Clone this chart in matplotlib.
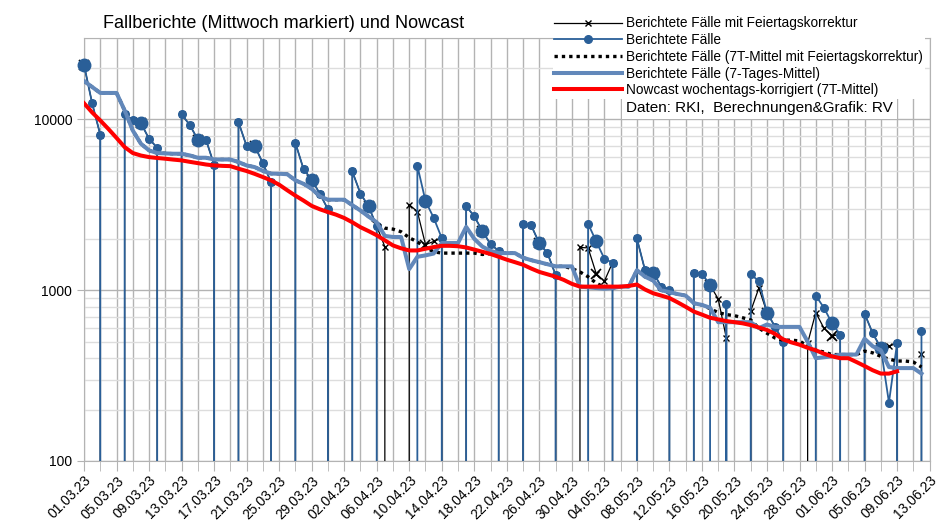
import pandas as pd
import matplotlib
matplotlib.use('Agg')
import matplotlib.pyplot as plt
import matplotlib.dates as mdates
from matplotlib.ticker import FuncFormatter, NullFormatter, LogLocator

plt.rcParams['font.family'] = ['Liberation Sans', 'DejaVu Sans']

# Daten, 01.03.23 - 12.06.23
tage = pd.date_range('2023-03-01', '2023-06-12')

faelle = [20900, 12450, 8140, 0, 0, 10700, 9870, 9520, 7710, 6830,
          0, 0, 10700, 9310, 7620, 7620, 5430, 0, 0, 9650,
          6980, 6980, 5550, 4300, 0, 0, 7290, 5120, 4440, 3680,
          2980, 0, 0, 4960, 3680, 3100, 2370, 0, 0, 0,
          0, 5360, 3330, 2660, 2020, 0, 0, 3110, 2710, 2220,
          1860, 1700, 0, 0, 2440, 2400, 1880, 1650, 1230, 0,
          0, 0, 2450, 1930, 1530, 1450, 0, 0, 2010, 1310,
          1270, 1050, 1000, 0, 0, 1270, 1250, 1070, 0, 830,
          0, 0, 1240, 1130, 740, 610, 500, 0, 0, 0,
          930, 790, 640, 550, 0, 0, 730, 560, 460, 220,
          490, 0, 0, 575]

faelle_korr = [20900, 12450, 8140, 0, 0, 10700, 9870, 9520, 7710, 6830,
               0, 0, 10700, 9310, 7620, 7620, 5430, 0, 0, 9650,
               6980, 6980, 5550, 4300, 0, 0, 7290, 5120, 4440, 3680,
               2980, 0, 0, 4960, 3680, 3100, 2370, 1800, 0, 0,
               3170, 2890, 1850, 1930, 2020, 0, 0, 3110, 2710, 2220,
               1860, 1700, 0, 0, 2440, 2400, 1880, 1650, 1230, 0,
               0, 1780, 1770, 1250, 1130, 1450, 0, 0, 2010, 1310,
               1270, 1050, 1000, 0, 0, 1270, 1250, 1070, 890, 525,
               0, 0, 755, 1030, 740, 610, 500, 0, 0, 490,
               740, 600, 540, 550, 0, 0, 730, 560, 460, 470,
               490, 0, 0, 425]

mittel = [16800, 15500, 14300, 14300, 14300, 11300, 8620, 7210, 6590, 6360,
          6330, 6300, 6300, 6160, 5970, 5970, 5830, 5830, 5830, 5630,
          5380, 5260, 5000, 4820, 4810, 4780, 4400, 4200, 3930, 3550,
          3390, 3390, 3390, 3150, 2930, 2700, 2500, 2080, 2050, 2050,
          1330, 1570, 1600, 1640, 1890, 1890, 1890, 2350, 2000, 1800,
          1700, 1650, 1650, 1650, 1550, 1500, 1460, 1420, 1380, 1380,
          1380, 1050, 1040, 1030, 1020, 1030, 1050, 1050, 1310, 1200,
          1140, 1000, 975, 950, 930, 840, 820, 790, 650, 650,
          650, 650, 650, 600, 630, 610, 610, 610, 610, 500,
          400, 405, 410, 420, 420, 420, 520, 470, 445, 355,
          350, 350, 350, 325]

mittel_korr = [16800, 15500, 14300, 14300, 14300, 11300, 8620, 7210, 6590, 6360,
               6330, 6300, 6300, 6160, 5970, 5970, 5830, 5830, 5830, 5630,
               5380, 5260, 5000, 4820, 4810, 4780, 4400, 4200, 3930, 3550,
               3390, 3390, 3390, 3150, 2930, 2700, 2450, 2310, 2280, 2200,
               2030, 1920, 1780, 1680, 1650, 1650, 1650, 1650, 1650, 1620,
               1640, 1650, 1650, 1650, 1550, 1500, 1460, 1420, 1380, 1380,
               1340, 1280, 1200, 1100, 1040, 1030, 1050, 1050, 1310, 1200,
               1140, 1000, 975, 950, 930, 840, 820, 780, 740, 720,
               710, 690, 670, 600, 560, 525, 510, 510, 505, 470,
               445, 435, 420, 420, 420, 420, 440, 430, 410, 395,
               385, 385, 380, 355]

# Nowcast bis 09.06.23
nowcast = [12450, 11000, 9870, 8800, 7800, 6890, 6360, 6150, 6020, 5950,
           5890, 5820, 5760, 5650, 5550, 5450, 5380, 5350, 5330, 5150,
           4990, 4800, 4600, 4400, 4150, 3850, 3580, 3350, 3120, 2980,
           2870, 2770, 2650, 2500, 2340, 2220, 2100, 1960, 1830, 1760,
           1710, 1710, 1750, 1790, 1820, 1820, 1810, 1780, 1730, 1680,
           1630, 1570, 1510, 1460, 1410, 1340, 1280, 1240, 1200, 1150,
           1090, 1050, 1050, 1050, 1050, 1050, 1050, 1060, 1080, 1010,
           960, 930, 900, 850, 800, 750, 720, 690, 675, 660,
           650, 640, 625, 605, 585, 555, 515, 495, 480, 460,
           445, 425, 410, 400, 400, 380, 360, 340, 325, 325,
           335]

# markierte Tage (Index)
markiert = [0, 7, 14, 21, 28, 35, 42, 49, 56, 63, 70, 77, 84, 92, 98]

blau = '#2a5f98'
stahl = '#6288ba'

fig = plt.figure(figsize=(9.43, 5.30), dpi=100)
ax = fig.add_axes([84 / 943, 1 - 461 / 530, 845.6 / 943, 423 / 530])
ax.set_yscale('log', nonpositive='clip')

ax.plot(tage, faelle_korr, color='black', lw=0.9, marker='x', ms=4.5, mew=1,
        zorder=3, label='Berichtete Fälle mit Feiertagskorrektur')
ax.plot(tage[markiert], [faelle_korr[i] for i in markiert], ls='none',
        marker='x', ms=7, mew=1.2, color='black', zorder=3, clip_on=False)
ax.plot(tage, faelle, color=blau, lw=1.3, marker='o', ms=5.5,
        zorder=4, label='Berichtete Fälle')
ax.plot(tage[markiert], [faelle[i] for i in markiert], ls='none',
        marker='o', ms=9, color=blau, zorder=4, clip_on=False)
ax.plot(tage, mittel_korr, color='black', lw=2.4, dashes=(1, 1.2),
        zorder=5, label='Berichtete Fälle (7T-Mittel mit Feiertagskorrektur)')
ax.plot(tage, mittel, color=stahl, lw=2.9, zorder=6,
        label='Berichtete Fälle (7-Tages-Mittel)')
ax.plot(tage[:len(nowcast)], nowcast, color='#ff0000', lw=2.9, zorder=7,
        label='Nowcast wochentags-korrigiert (7T-Mittel)')

ax.set_ylim(100, 30000)
ax.set_xlim(pd.Timestamp('2023-03-01'), pd.Timestamp('2023-06-13'))

ax.set_xticks(pd.date_range('2023-03-01', '2023-06-13', freq='4D'))
ax.set_xticks(pd.date_range('2023-03-01', '2023-06-13', freq='2D'), minor=True)
ax.xaxis.set_major_formatter(mdates.DateFormatter('%d.%m.%y'))
ax.xaxis.set_minor_formatter(NullFormatter())

ax.set_yticks([100, 1000, 10000])
ax.yaxis.set_major_formatter(FuncFormatter(lambda v, p: f'{v:.0f}'))
ax.yaxis.set_minor_locator(LogLocator(base=10, subs=range(2, 10)))
ax.yaxis.set_minor_formatter(NullFormatter())

ax.grid(which='both', axis='x', color='#b3b3b3', lw=1)
ax.grid(which='major', axis='y', color='#b3b3b3', lw=1)
ax.grid(which='minor', axis='y', color='#dddddd', lw=1)
ax.set_axisbelow(True)
for s in ax.spines.values():
    s.set_color('#b3b3b3')

ax.tick_params(axis='x', which='both', length=7, color='#b3b3b3', labelsize=10, pad=2)
ax.tick_params(axis='y', which='major', length=5, color='#b3b3b3', labelsize=10)
ax.tick_params(axis='y', which='minor', length=0)
for lbl in ax.get_xticklabels():
    lbl.set_rotation(45)
    lbl.set_ha('right')
    lbl.set_rotation_mode('anchor')

fig.text(103 / 943, 1 - 28 / 530, 'Fallberichte (Mittwoch markiert) und Nowcast',
         fontsize=13, va='baseline', ha='left')

leg = fig.legend(loc='upper left', bbox_to_anchor=(553 / 943, 1 - 15 / 530),
                 fontsize=9.8, handlelength=5, handletextpad=0.3,
                 labelspacing=0.2, borderpad=0.1, borderaxespad=0,
                 frameon=True, facecolor='white', edgecolor='none', framealpha=1)

fig.text(626 / 943, 1 - 108 / 530, 'Daten: RKI,  Berechnungen&Grafik: RV',
         fontsize=11, va='center', ha='left',
         bbox=dict(facecolor='white', edgecolor='none', pad=3))

fig.savefig('out.png', dpi=100)
